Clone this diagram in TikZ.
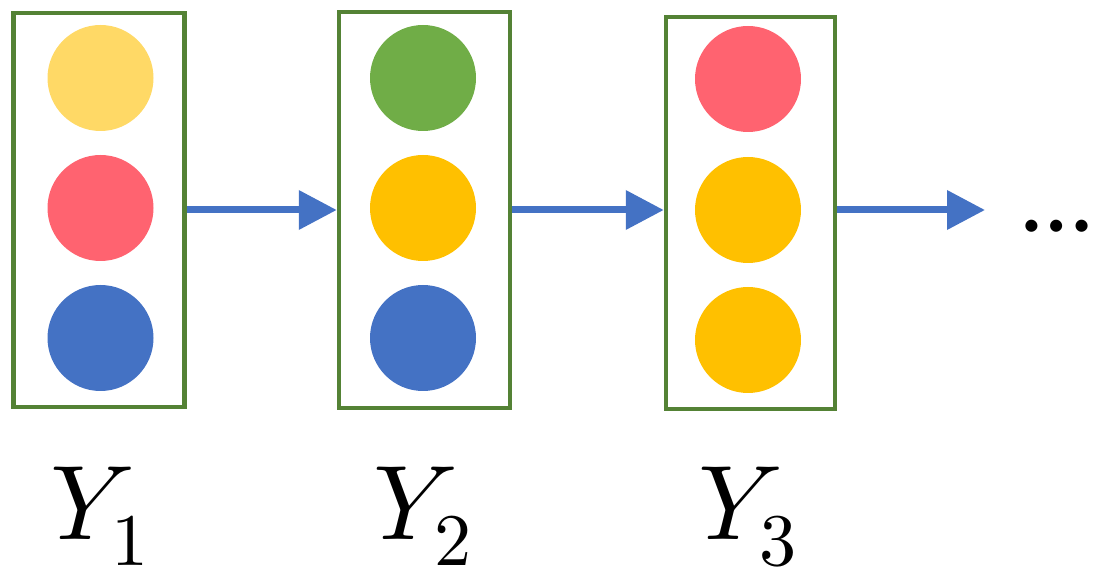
\documentclass[tikz,border=0pt]{standalone}
\usepackage{fontspec}
\usepackage{unicode-math}
\newfontfamily\carlito{Carlito}
\usetikzlibrary{arrows.meta}
\definecolor{boxgreen}{HTML}{548235}
\definecolor{cyellow}{HTML}{FFD966}
\definecolor{cred}{HTML}{FF6370}
\definecolor{cblue}{HTML}{4472C4}
\definecolor{cgreen}{HTML}{70AD47}
\definecolor{cgold}{HTML}{FFC000}
\definecolor{arrowblue}{HTML}{4472C4}
\begin{document}
\begin{tikzpicture}[x=1pt,y=-1pt,
  dot/.style={circle,fill=#1,minimum size=106pt,inner sep=0pt},
  flow/.style={draw=arrowblue,line width=7pt,-{Triangle[length=38pt,width=38pt]}},
  lab/.style={font=\fontsize{106}{116}\selectfont,inner sep=0pt,anchor=base}
]
\useasboundingbox (0,0) rectangle (1096,577);
% boxes
\node[draw=boxgreen,line width=4.5pt,minimum width=171pt,minimum height=394pt,inner sep=0pt] (b1) at (99,210) {};
\node[draw=boxgreen,line width=4.5pt,minimum width=171pt,minimum height=396pt,inner sep=0pt] (b2) at (424.5,210) {};
\node[draw=boxgreen,line width=4.5pt,minimum width=169pt,minimum height=392pt,inner sep=0pt] (b3) at (750.5,213) {};
% circles
\node[dot=cyellow] (c11) at (100.5,78) {};
\node[dot=cred]    (c12) at (100.5,208) {};
\node[dot=cblue]   (c13) at (100.5,338) {};
\node[dot=cgreen]  (c21) at (423,78) {};
\node[dot=cgold]   (c22) at (423,208) {};
\node[dot=cblue]   (c23) at (423,338) {};
\node[dot=cred]    (c31) at (748,79) {};
\node[dot=cgold]   (c32) at (748,210) {};
\node[dot=cgold]   (c33) at (748,340) {};
% arrows
\coordinate (a3end) at (985,210);
\draw[flow] (b1.east |- 0,210) -- (b2.west |- 0,210);
\draw[flow] (b2.east |- 0,210) -- (b3.west |- 0,210);
\draw[flow] (b3.east |- 0,210) -- (a3end);
% ellipsis
\node[font=\carlito\fontsize{100}{110}\selectfont,anchor=base west,inner sep=0pt] (dots) at (1022,232) {…};
% labels
\node[lab] (y1) at (100,539) {$Y_1$};
\node[lab] (y2) at (423,539) {$Y_2$};
\node[lab] (y3) at (748,539) {$Y_3$};
\end{tikzpicture}
\end{document}
